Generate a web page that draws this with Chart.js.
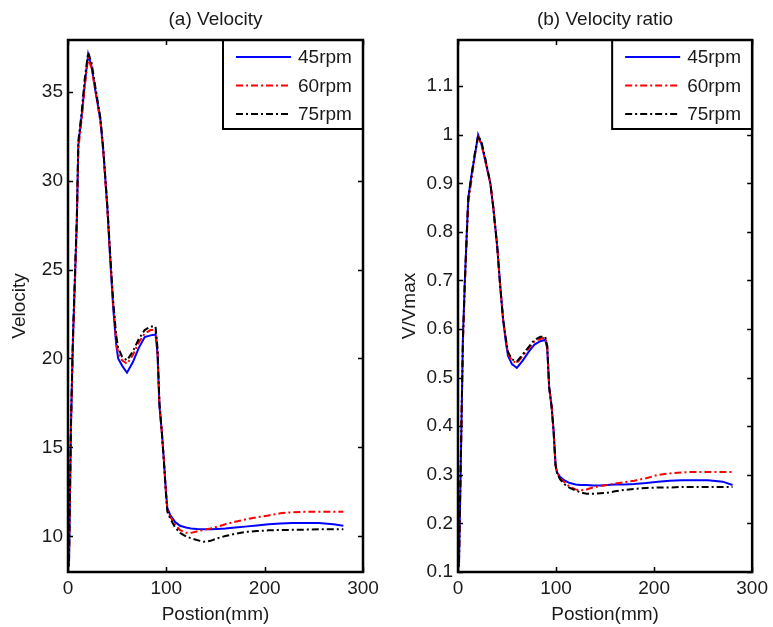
<!DOCTYPE html>
<html>
<head>
<meta charset="utf-8">
<script src="https://cdn.jsdelivr.net/npm/chart.js@4/dist/chart.umd.min.js"></script>
<style>
html, body { margin: 0; padding: 0; background: #fff; }
#wrap { position: relative; width: 773px; height: 627px; }
canvas { position: absolute; top: 0; }
#chartA { left: 0; }
#chartB { left: 390px; }
</style>
</head>
<body>
<div id="wrap">
<canvas id="chartA" width="390" height="627"></canvas>
<canvas id="chartB" width="383" height="627"></canvas>
</div>
<script>
// valores
var position = [1, 3, 5, 7, 9, 10.5, 14, 17, 20.5, 24, 28, 33, 36, 40, 43, 46, 49, 51, 55, 60,
    66, 72, 78, 84, 89, 91, 93, 95.5, 97.5, 99.5, 101, 104, 109, 114, 120, 125, 131, 138, 145, 152,
    160, 170, 180, 192, 204, 216, 228, 240, 255, 270, 280];

var velocity45 = [8.3, 16.2, 21.0, 24.4, 27.8, 32.0, 33.7, 35.4, 37.1, 36.4, 35.0, 33.4, 31.6, 28.5, 25.5, 22.8, 20.8, 20.0, 19.6, 19.2,
    19.8, 20.6, 21.2, 21.3, 21.35, 20.3, 17.3, 15.8, 14.3, 12.6, 11.6, 11.2, 10.8, 10.6, 10.5, 10.45, 10.42, 10.4, 10.4, 10.42,
    10.45, 10.5, 10.55, 10.62, 10.68, 10.72, 10.75, 10.75, 10.75, 10.68, 10.6];
var velocity60 = [8.5, 16.0, 20.8, 24.2, 27.5, 31.8, 33.5, 35.3, 36.9, 36.3, 35.0, 33.3, 31.5, 28.4, 25.6, 23.0, 21.0, 20.3, 19.9, 19.7,
    20.2, 20.9, 21.4, 21.6, 21.6, 20.4, 17.4, 15.8, 14.3, 12.6, 11.5, 11.1, 10.65, 10.35, 10.2, 10.2, 10.28, 10.37, 10.45, 10.55,
    10.68, 10.82, 10.95, 11.07, 11.18, 11.3, 11.36, 11.38, 11.38, 11.38, 11.38];
var velocity75 = [8.6, 16.3, 21.2, 24.6, 28.0, 32.2, 33.9, 35.7, 37.2, 36.6, 35.2, 33.5, 31.7, 28.6, 25.8, 23.2, 21.3, 20.6, 20.1, 19.9,
    20.4, 21.1, 21.6, 21.8, 21.8, 20.6, 17.5, 15.8, 14.2, 12.5, 11.4, 11.0, 10.5, 10.2, 10.0, 9.9, 9.8, 9.7, 9.75, 9.9,
    10.02, 10.15, 10.25, 10.3, 10.34, 10.36, 10.37, 10.38, 10.4, 10.4, 10.4];

var ratio45 = [0.11, 0.34, 0.58, 0.70, 0.80, 0.87, 0.92, 0.955, 1.0, 0.98, 0.945, 0.90, 0.85, 0.77, 0.69, 0.62, 0.57, 0.545, 0.528, 0.52,
    0.535, 0.553, 0.568, 0.575, 0.578, 0.56, 0.48, 0.44, 0.39, 0.32, 0.305, 0.296, 0.288, 0.283, 0.28, 0.279, 0.279, 0.278, 0.278, 0.279,
    0.28, 0.28, 0.281, 0.283, 0.286, 0.288, 0.289, 0.289, 0.289, 0.286, 0.279];
var ratio60 = [0.12, 0.34, 0.57, 0.69, 0.79, 0.86, 0.91, 0.955, 0.995, 0.98, 0.945, 0.90, 0.85, 0.77, 0.69, 0.62, 0.575, 0.55, 0.535, 0.53,
    0.545, 0.56, 0.575, 0.58, 0.582, 0.565, 0.48, 0.44, 0.39, 0.32, 0.305, 0.294, 0.284, 0.275, 0.27, 0.268, 0.27, 0.274, 0.277, 0.279,
    0.282, 0.285, 0.288, 0.293, 0.30, 0.303, 0.305, 0.306, 0.306, 0.306, 0.306];
var ratio75 = [0.12, 0.35, 0.58, 0.70, 0.80, 0.87, 0.92, 0.96, 0.998, 0.985, 0.95, 0.90, 0.85, 0.77, 0.69, 0.62, 0.578, 0.553, 0.538, 0.533,
    0.548, 0.563, 0.578, 0.584, 0.584, 0.566, 0.48, 0.44, 0.39, 0.32, 0.303, 0.291, 0.28, 0.273, 0.268, 0.264, 0.261, 0.261, 0.262, 0.263,
    0.266, 0.269, 0.271, 0.273, 0.274, 0.274, 0.275, 0.275, 0.275, 0.275, 0.275];

var seriesNames = ['45rpm', '60rpm', '75rpm'];
var xTicks = [0, 100, 200, 300];
var velocityTicks = [10, 15, 20, 25, 30, 35];
var ratioTicks = [0.1, 0.2, 0.3, 0.4, 0.5, 0.6, 0.7, 0.8, 0.9, 1, 1.1];
var ratioTickLabels = ['0.1', '0.2', '0.3', '0.4', '0.5', '0.6', '0.7', '0.8', '0.9', '1', '1.1'];

var fonte = "'Liberation Sans', Arial, sans-serif";
var corTexto = '#1a1a1a';
var estilos = [
    { color: '#0000ff', dash: [] },
    { color: '#ff0000', dash: [7, 3, 2, 3] },
    { color: '#000000', dash: [7, 3, 2, 3] }
];

function pares(xs, ys) {
    return xs.map(function (x, i) { return { x: x, y: ys[i] }; });
}

// caixa estilo matlab: moldura, ticks para dentro e legenda
var caixaPlugin = {
    id: 'caixa',
    afterDraw: function (chart) {
        var ctx = chart.ctx;
        var a = chart.chartArea;
        var sx = chart.scales.x, sy = chart.scales.y;
        ctx.save();
        ctx.strokeStyle = '#000';
        ctx.lineWidth = 1.5;
        ctx.beginPath();
        sx.ticks.forEach(function (t) {
            var px = Math.round(sx.getPixelForValue(t.value)) + 0.5;
            ctx.moveTo(px, a.bottom); ctx.lineTo(px, a.bottom - 5);
            ctx.moveTo(px, a.top); ctx.lineTo(px, a.top + 5);
        });
        sy.ticks.forEach(function (t) {
            var py = Math.round(sy.getPixelForValue(t.value)) + 0.5;
            ctx.moveTo(a.left, py); ctx.lineTo(a.left + 5, py);
            ctx.moveTo(a.right, py); ctx.lineTo(a.right - 5, py);
        });
        ctx.stroke();

        // legenda
        var lw = 140, lh = 89;
        var lx = a.right - lw, ly = a.top;
        ctx.fillStyle = '#fff';
        ctx.fillRect(lx, ly, lw, lh);
        ctx.lineWidth = 2;
        ctx.strokeRect(lx, ly, lw, lh);
        ctx.font = '19px ' + fonte;
        ctx.textBaseline = 'middle';
        ctx.textAlign = 'left';
        chart.data.datasets.forEach(function (ds, i) {
            var cy = ly + 17 + i * 28.5;
            ctx.strokeStyle = ds.borderColor;
            ctx.lineWidth = 2;
            ctx.setLineDash(ds.borderDash || []);
            ctx.beginPath();
            ctx.moveTo(lx + 13, cy); ctx.lineTo(lx + 68, cy);
            ctx.stroke();
            ctx.setLineDash([]);
            ctx.fillStyle = corTexto;
            ctx.fillText(ds.label, lx + 75, cy + 1);
        });

        ctx.strokeStyle = '#000';
        ctx.lineWidth = 2.5;
        ctx.strokeRect(a.left, a.top, a.right - a.left, a.bottom - a.top);
        ctx.restore();
    }
};

function montaGrafico(id, titulo, tituloY, yMin, yMax, yTicks, yLabels, valores) {
    var canvas = document.getElementById(id);
    var datasets = valores.map(function (v, i) {
        return {
            label: seriesNames[i],
            data: pares(position, v),
            borderColor: estilos[i].color,
            borderDash: estilos[i].dash,
            borderWidth: 2,
            pointRadius: 0,
            tension: 0,
            fill: false,
            order: 3 - i
        };
    });
    return new Chart(canvas, {
        type: 'line',
        data: { datasets: datasets },
        options: {
            responsive: false,
            animation: false,
            layout: { padding: { left: 0, right: canvas.width - 363, top: 0, bottom: 0 } },
            plugins: {
                legend: { display: false },
                tooltip: { enabled: false },
                title: {
                    display: true,
                    text: titulo,
                    fullSize: false,
                    color: corTexto,
                    font: { family: fonte, size: 19, weight: 'normal' },
                    padding: { top: 8, bottom: 9.2 }
                }
            },
            scales: {
                x: {
                    type: 'linear',
                    min: 0,
                    max: 300,
                    afterBuildTicks: function (s) { s.ticks = xTicks.map(function (v) { return { value: v }; }); },
                    afterFit: function (s) { s.height = 55; },
                    grid: { display: false, drawTicks: false },
                    border: { display: false },
                    ticks: { padding: 5, color: corTexto, font: { family: fonte, size: 19 }, autoSkip: false, maxRotation: 0 },
                    title: { display: true, text: 'Postion(mm)', color: corTexto, font: { family: fonte, size: 19 }, padding: { top: 0, bottom: 1 } }
                },
                y: {
                    type: 'linear',
                    min: yMin,
                    max: yMax,
                    afterBuildTicks: function (s) { s.ticks = yTicks.map(function (v) { return { value: v }; }); },
                    afterFit: function (s) { s.width = 68; },
                    grid: { display: false, drawTicks: false },
                    border: { display: false },
                    ticks: {
                        padding: 5,
                        color: corTexto,
                        font: { family: fonte, size: 19 },
                        autoSkip: false,
                        callback: function (value) {
                            var k = yTicks.indexOf(value);
                            return k >= 0 ? yLabels[k] : '';
                        }
                    },
                    title: { display: true, text: tituloY, color: corTexto, font: { family: fonte, size: 19 }, padding: { top: 8, bottom: 0 } }
                }
            }
        },
        plugins: [caixaPlugin]
    });
}

montaGrafico('chartA', '(a) Velocity', 'Velocity', 8, 37.9, velocityTicks,
    velocityTicks.map(String), [velocity45, velocity60, velocity75]);
montaGrafico('chartB', '(b) Velocity ratio', 'V/Vmax', 0.1, 1.195, ratioTicks,
    ratioTickLabels, [ratio45, ratio60, ratio75]);
</script>
</body>
</html>
